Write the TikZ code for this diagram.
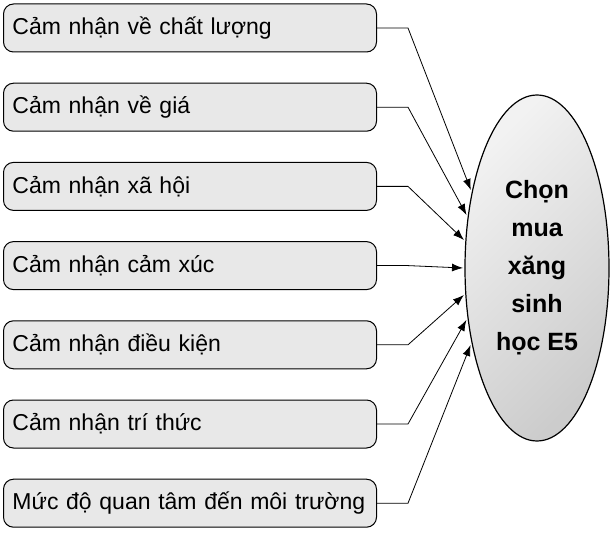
\documentclass[tikz,border=0pt]{standalone}
\usepackage{fontspec}
\setmainfont{Liberation Sans}
\usetikzlibrary{shapes.geometric,arrows.meta}
\begin{document}
\begin{tikzpicture}[x=1pt,y=-1pt,
  box/.style={draw,line width=1pt,rounded corners=10pt,fill=gray!18,minimum width=373pt,minimum height=48pt,anchor=center,font=\fontsize{23}{26}\selectfont,text width=355pt,align=left},
  conn/.style={draw,line width=0.8pt,-{Latex[length=11pt,width=8pt]}}]
\useasboundingbox (0,0) rectangle (610,537);
\node[draw,line width=1.2pt,ellipse,minimum width=144pt,minimum height=346pt,inner sep=0pt,top color=gray!10,bottom color=gray!40,shading angle=45,align=center,font=\bfseries\fontsize{25}{38}\selectfont] (e) at (537,268) {Chọn\\mua\\xăng\\sinh\\học E5};
\foreach \i/\t/\ey in {1/Cảm nhận về chất lượng/190,2/Cảm nhận về giá/215,3/Cảm nhận xã hội/240,4/Cảm nhận cảm xúc/268,5/Cảm nhận điều kiện/295,6/Cảm nhận trí thức/320,7/Mức độ quan tâm đến môi trường/345}{
  \node[box] (b\i) at (190,{28+(\i-1)*79.2}) {\t};
  \coordinate (k\i) at (408,{28+(\i-1)*79.2});
  \pgfmathsetmacro\ex{535-72*sqrt(1-((\ey-268)/172)^2)}
  \coordinate (t\i) at (\ex,\ey);
  \draw[conn] (b\i.east) -- (k\i) -- (t\i);
}
\end{tikzpicture}
\end{document}
